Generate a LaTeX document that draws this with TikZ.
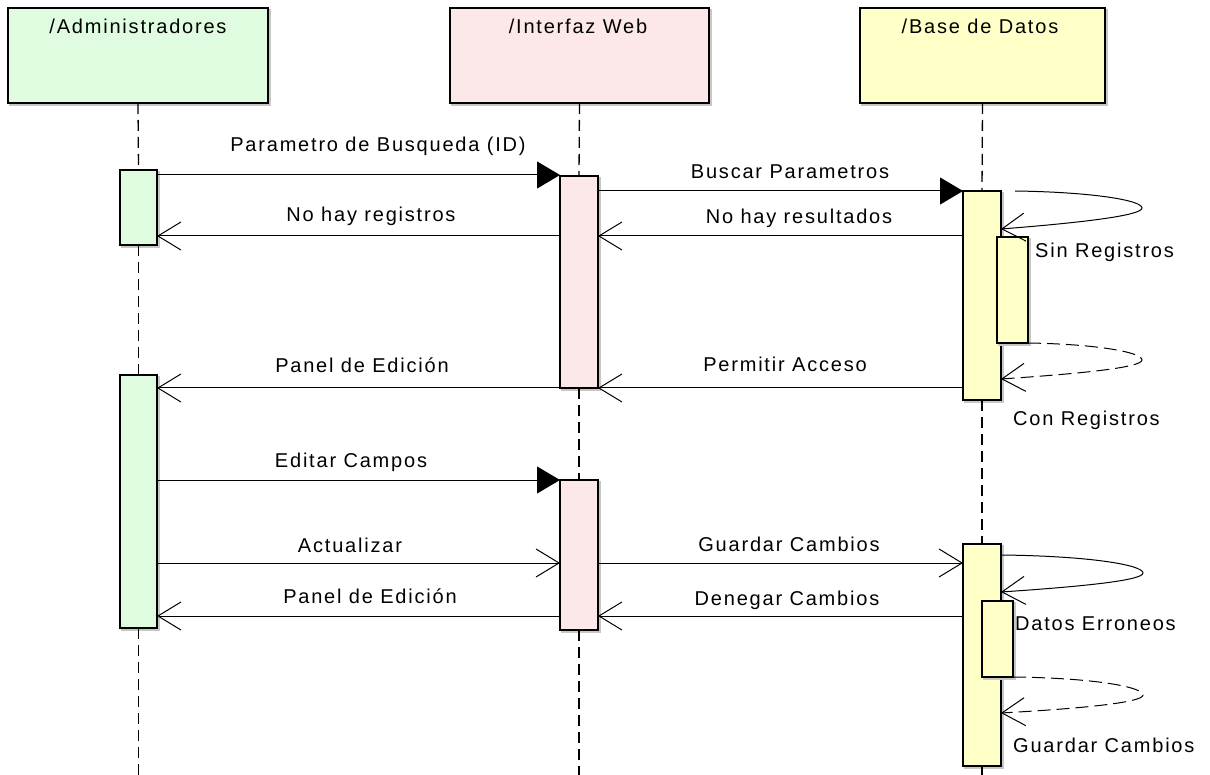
\documentclass[tikz,border=0pt]{standalone}
\usepackage{fontspec}
\setmainfont{Liberation Sans}[LetterSpace=9]
\usetikzlibrary{arrows.meta}
\definecolor{gr}{RGB}{224,252,224}
\definecolor{pk}{RGB}{252,232,232}
\definecolor{yl}{RGB}{255,255,200}
\begin{document}
\begin{tikzpicture}[x=1pt,y=-1pt,
  shadowed/.style={preaction={draw=black!22,fill=black!22,line width=1.2pt,transform canvas={shift={(2pt,-2pt)}}}},
  box/.style={draw,line width=1.2pt,inner sep=0pt,outer sep=0pt,anchor=north west,shadowed},
  lbl/.style={font=\fontsize{20}{24}\selectfont,inner sep=0pt,anchor=base},
  lblw/.style={lbl,anchor=base west},
  life/.style={line width=1.3pt,dash pattern=on 11pt off 6pt},
  msg/.style={line width=1pt},
  synch/.style={msg,-{Triangle[length=23pt,width=27pt]}},
  reply/.style={msg,-{Straight Barb[length=23pt,width=28pt,line width=1pt]}},
  dreply/.style={reply,dash pattern=on 13pt off 6pt}]
\useasboundingbox[fill=white] (0,0) rectangle (1210,775);

% lifeline heads
\node[box,fill=gr,minimum width=260pt,minimum height=95pt] (admin) at (8,8) {};
\node[box,fill=pk,minimum width=259pt,minimum height=95pt] (web) at (450,8) {};
\node[box,fill=yl,minimum width=245pt,minimum height=95pt] (db) at (860,8) {};
\node[lbl] (adminlbl) at (138,34) {/Administradores};
\node[lbl] (weblbl) at (578,34) {/Interfaz Web};
\node[lbl] (dblbl) at (980,34) {/Base de Datos};

% activations
\node[box,fill=gr,minimum width=37pt,minimum height=75pt] (a1) at (120,170) {};
\node[box,fill=gr,minimum width=37pt,minimum height=253pt] (a2) at (120,375) {};
\node[box,fill=pk,minimum width=38pt,minimum height=212pt] (w1) at (560,176) {};
\node[box,fill=pk,minimum width=38pt,minimum height=150pt] (w2) at (560,480) {};
\node[box,fill=yl,minimum width=38pt,minimum height=209pt] (d1) at (963,191) {};
\node[box,fill=yl,minimum width=31pt,minimum height=106pt] (d1n) at (997,237) {};
\node[box,fill=yl,minimum width=38pt,minimum height=222pt] (d2) at (963,544) {};
\node[box,fill=yl,minimum width=31pt,minimum height=76pt] (d2n) at (982,601) {};

% lifelines
\coordinate (bottom) at (0,775);
\draw[life] (admin.south) -- (a1.north);
\draw[life] (a1.south) -- (a2.north);
\draw[life] (a2.south) -- (a2.south |- bottom);
\draw[life] (web.south) -- (w1.north);
\draw[life] (w1.south) -- (w2.north);
\draw[life] (w2.south) -- (w2.south |- bottom);
\draw[life] (db.south) -- (d1.north);
\draw[life] (d1.south) -- (d2.north);
\draw[life] (d2.south) -- (d2.south |- bottom);

% message levels
\coordinate (y1) at (0,175);
\coordinate (y2) at (0,236);
\coordinate (y3) at (0,191);
\coordinate (y4) at (0,236);
\coordinate (y7) at (0,388);
\coordinate (y9) at (0,480);
\coordinate (y10) at (0,563);
\coordinate (y11) at (0,616);

% messages
\draw[synch] (a1.east |- y1) -- (w1.west |- y1);
\node[lbl] (m1) at (378,152) {Parametro de Busqueda (ID)};
\draw[reply] (w1.west |- y2) -- (a1.east |- y2);
\node[lbl] (m2) at (371,222) {No hay registros};
\draw[synch] (w1.east |- y3) -- (d1.north west);
\node[lbl] (m3) at (790,179) {Buscar Parametros};
\draw[reply] (d1.west |- y4) -- (w1.east |- y4);
\node[lbl] (m4) at (799,224) {No hay resultados};
\draw[reply] (d1.west |- y7) -- (w1.east |- y7);
\node[lbl] (m7) at (785,372) {Permitir Acceso};
\draw[reply] (w1.south west) -- (a2.east |- y7);
\node[lbl] (m8) at (362,373) {Panel de Edición};
\draw[synch] (a2.east |- y9) -- (w2.north west);
\node[lbl] (m9) at (351,467) {Editar Campos};
\draw[reply] (a2.east |- y10) -- (w2.west |- y10);
\node[lbl] (m10) at (350,552) {Actualizar};
\draw[reply] (w2.west |- y11) -- (a2.east |- y11);
\node[lbl] (m11) at (370,603) {Panel de Edición};
\draw[reply] (w2.east |- y10) -- (d2.west |- y10);
\node[lbl] (m12) at (789,551) {Guardar Cambios};
\draw[reply] (d2.west |- y11) -- (w2.east |- y11);
\node[lbl] (m13) at (787,605) {Denegar Cambios};

% self messages
\coordinate (ls1) at (1015,191);
\coordinate (le1) at (0,229);
\draw[reply] (ls1) .. controls (1090,192) and (1142,200) .. (1142,208)
  .. controls (1142,215) and (1090,222) .. (d1.east |- le1);
\node[lblw] (s1) at (1035,258) {Sin Registros};
\coordinate (le2) at (0,379);
\draw[dreply] (d1n.south east) .. controls (1095,344) and (1142,352) .. (1142,360)
  .. controls (1142,367) and (1090,373) .. (d1.east |- le2);
\node[lblw] (s2) at (1013,425) {Con Registros};
\coordinate (ls3) at (0,555);
\coordinate (le3) at (0,592);
\draw[reply] (d2.east |- ls3) .. controls (1090,556) and (1143,565) .. (1143,573)
  .. controls (1143,580) and (1090,586) .. (d2.east |- le3);
\node[lblw] (s3) at (1015,630) {Datos Erroneos};
\coordinate (le4) at (0,713);
\draw[dreply] (d2n.south east) .. controls (1095,678) and (1143,687) .. (1143,695)
  .. controls (1143,702) and (1090,708) .. (d2.east |- le4);
\node[lblw] (s4) at (1013,752) {Guardar Cambios};
\end{tikzpicture}
\end{document}
